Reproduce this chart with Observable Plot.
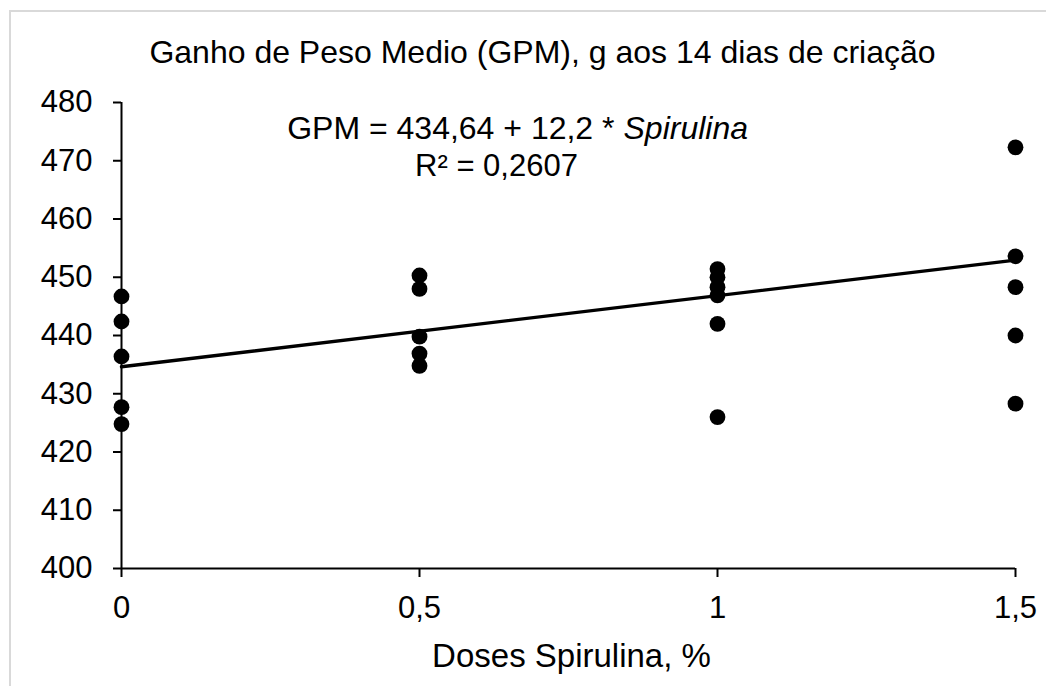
<!DOCTYPE html>
<html><head><meta charset="utf-8">
<script src="https://cdn.jsdelivr.net/npm/d3@7"></script>
<script src="https://cdn.jsdelivr.net/npm/@observablehq/plot@0.6"></script>
<style>
body{margin:0;background:#fff;}
#wrap{position:relative;width:1046px;height:686px;overflow:hidden;background:#fff;}
#border{position:absolute;left:9px;top:10px;width:1100px;height:800px;border-left:2px solid #d9d9d9;border-top:2px solid #d9d9d9;}
#wrap svg{position:absolute;left:0;top:0;}
</style></head><body><div id="wrap"><div id="border"></div></div>
<script>
const doses = [0, 0.5, 1, 1.5];
const gpmDose0 = [446.7, 442.4, 436.4, 427.7, 424.8];
const gpmDose05 = [450.3, 448.0, 439.8, 436.9, 434.8];
const gpmDose1 = [451.4, 450.0, 448.3, 446.9, 442.0, 426.0];
const gpmDose15 = [472.3, 453.6, 448.3, 440.0, 428.3];
const xTicks = [0, 0.5, 1, 1.5];
const yTicks = [400, 410, 420, 430, 440, 450, 460, 470, 480];
const intercept = 434.64;
const slope = 12.2;
const titleText = "Ganho de Peso Medio (GPM), g aos 14 dias de criação";
const eqText1 = "GPM = 434,64 + 12,2 *";
const eqText2 = "Spirulina";
const r2Text = "R² = 0,2607";
const xLabel = "Doses Spirulina, %";

const groups = [gpmDose0, gpmDose05, gpmDose1, gpmDose15];
const points = groups.flatMap((g, i) => g.map(v => ({dose: doses[i], gpm: v})));
const lineData = [xTicks[0], xTicks[xTicks.length - 1]].map(x => ({dose: x, gpm: intercept + slope * x}));
const fmt = d => String(d).replace(".", ",");

const chart = Plot.plot({
  width: 1046,
  height: 686,
  marginLeft: 121,
  marginRight: 31,
  marginTop: 102,
  marginBottom: 118,
  style: {fontFamily: "'Liberation Sans', Arial, sans-serif", fontSize: "31px", background: "transparent", color: "#000", overflow: "visible"},
  x: {domain: [0, 1.5]},
  y: {domain: [400, 480]},
  marks: [
    Plot.ruleY([400], {strokeWidth: 2, stroke: "#000"}),
    Plot.ruleX([0], {strokeWidth: 2, stroke: "#000"}),
    Plot.axisY({ticks: yTicks, tickSize: 8, tickPadding: 21, strokeWidth: 2, label: null, fontSize: 31}),
    Plot.axisX({ticks: xTicks, tickSize: 9, tickPadding: 18, strokeWidth: 2, tickFormat: fmt, label: null, fontSize: 31}),
    Plot.line(lineData, {x: "dose", y: "gpm", stroke: "#000", strokeWidth: 3.4}),
    Plot.dot(points, {x: "dose", y: "gpm", r: 7.9, fill: "#000", stroke: "none"}),
    Plot.text([titleText], {frameAnchor: "top", dx: -26, dy: -40, lineAnchor: "bottom", fontSize: 32, fill: "#000"}),
    Plot.text([eqText1], {frameAnchor: "top-left", dx: 493, dy: 36, lineAnchor: "bottom", textAnchor: "end", fontSize: 32, fill: "#000"}),
    Plot.text([eqText2], {frameAnchor: "top-left", dx: 502, dy: 36, lineAnchor: "bottom", textAnchor: "start", fontSize: 32, fontStyle: "italic", fill: "#000"}),
    Plot.text([r2Text], {frameAnchor: "top-left", dx: 375, dy: 73, lineAnchor: "bottom", textAnchor: "middle", fontSize: 31, fill: "#000"}),
    Plot.text([xLabel], {frameAnchor: "bottom", dx: 3, dy: 98, lineAnchor: "bottom", fontSize: 33, fill: "#000"})
  ]
});
document.getElementById("wrap").appendChild(chart);
</script>
</body></html>
